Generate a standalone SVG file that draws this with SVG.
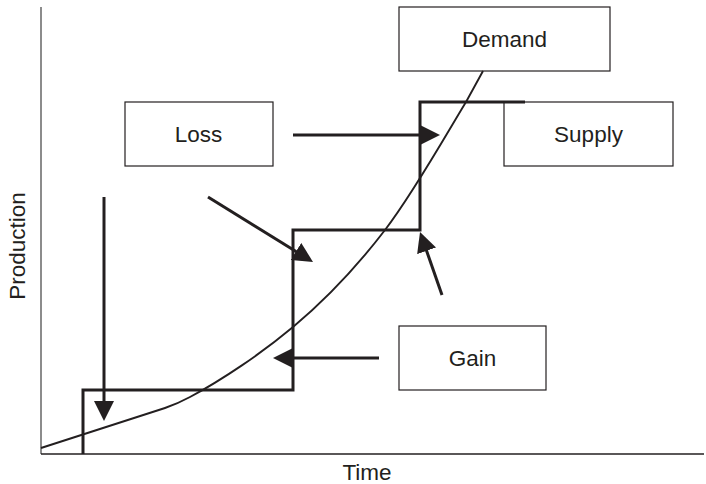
<svg xmlns="http://www.w3.org/2000/svg" width="706" height="484" viewBox="0 0 706 484">
<defs>
<style>
.box{fill:#fff;stroke:#231f20;stroke-width:1.2}
.lbl{font-family:"Liberation Sans",Arial,sans-serif;font-size:22.5px;fill:#231f20;text-anchor:middle}
.arr{fill:none;stroke:#231f20;stroke-width:3;marker-end:url(#ah)}
.thick{fill:none;stroke:#231f20;stroke-width:3;stroke-linejoin:miter}
.thin{fill:none;stroke:#231f20;stroke-width:1.9}
</style>
<marker id="ah" viewBox="0 0 20 20" refX="10" refY="10" markerWidth="20" markerHeight="20" markerUnits="userSpaceOnUse" orient="auto">
<path d="M0,0 L20,10 L0,20 z" fill="#231f20"/>
</marker>
</defs>
<rect width="706" height="484" fill="#fff"/>
<g id="axes">
<line x1="41" y1="7" x2="41" y2="454" stroke="#666" stroke-width="1.5"/>
<line x1="41" y1="454" x2="704" y2="454" stroke="#231f20" stroke-width="1.5"/>
<text class="lbl" x="367" y="480">Time</text>
<text class="lbl" transform="translate(25,246) rotate(-90)">Production</text>
</g>
<g id="loss"><rect class="box" x="125" y="102" width="148" height="64"/><text class="lbl" x="198.5" y="142.3">Loss</text></g>
<g id="demand"><rect class="box" x="399" y="7" width="211" height="64"/><text class="lbl" x="504.5" y="46.7">Demand</text></g>
<g id="supply"><rect class="box" x="504" y="102" width="169" height="64"/><text class="lbl" x="588.5" y="142">Supply</text></g>
<g id="gain"><rect class="box" x="399" y="326" width="147" height="64"/><text class="lbl" x="472.5" y="366">Gain</text></g>
<g id="connectors">
<path class="thick" d="M83,454 V390 H293 V230 H420 V102 H525"/>
<path class="thin" d="M41,448 L165,408 Q177,404 190,397 C222,380 262,353 293,327 C327.7,298 356.2,267.5 385,230 C413.8,192.5 449.7,128.5 466,102 L483,71"/>
<line class="arr" x1="104" y1="197" x2="104" y2="411"/>
<line class="arr" x1="208" y1="197" x2="304.5" y2="256.7"/>
<line class="arr" x1="293" y1="135" x2="430" y2="135"/>
<line class="arr" x1="442" y1="295" x2="423.3" y2="241.4"/>
<line class="arr" x1="379" y1="358" x2="283" y2="358"/>
</g>
</svg>
